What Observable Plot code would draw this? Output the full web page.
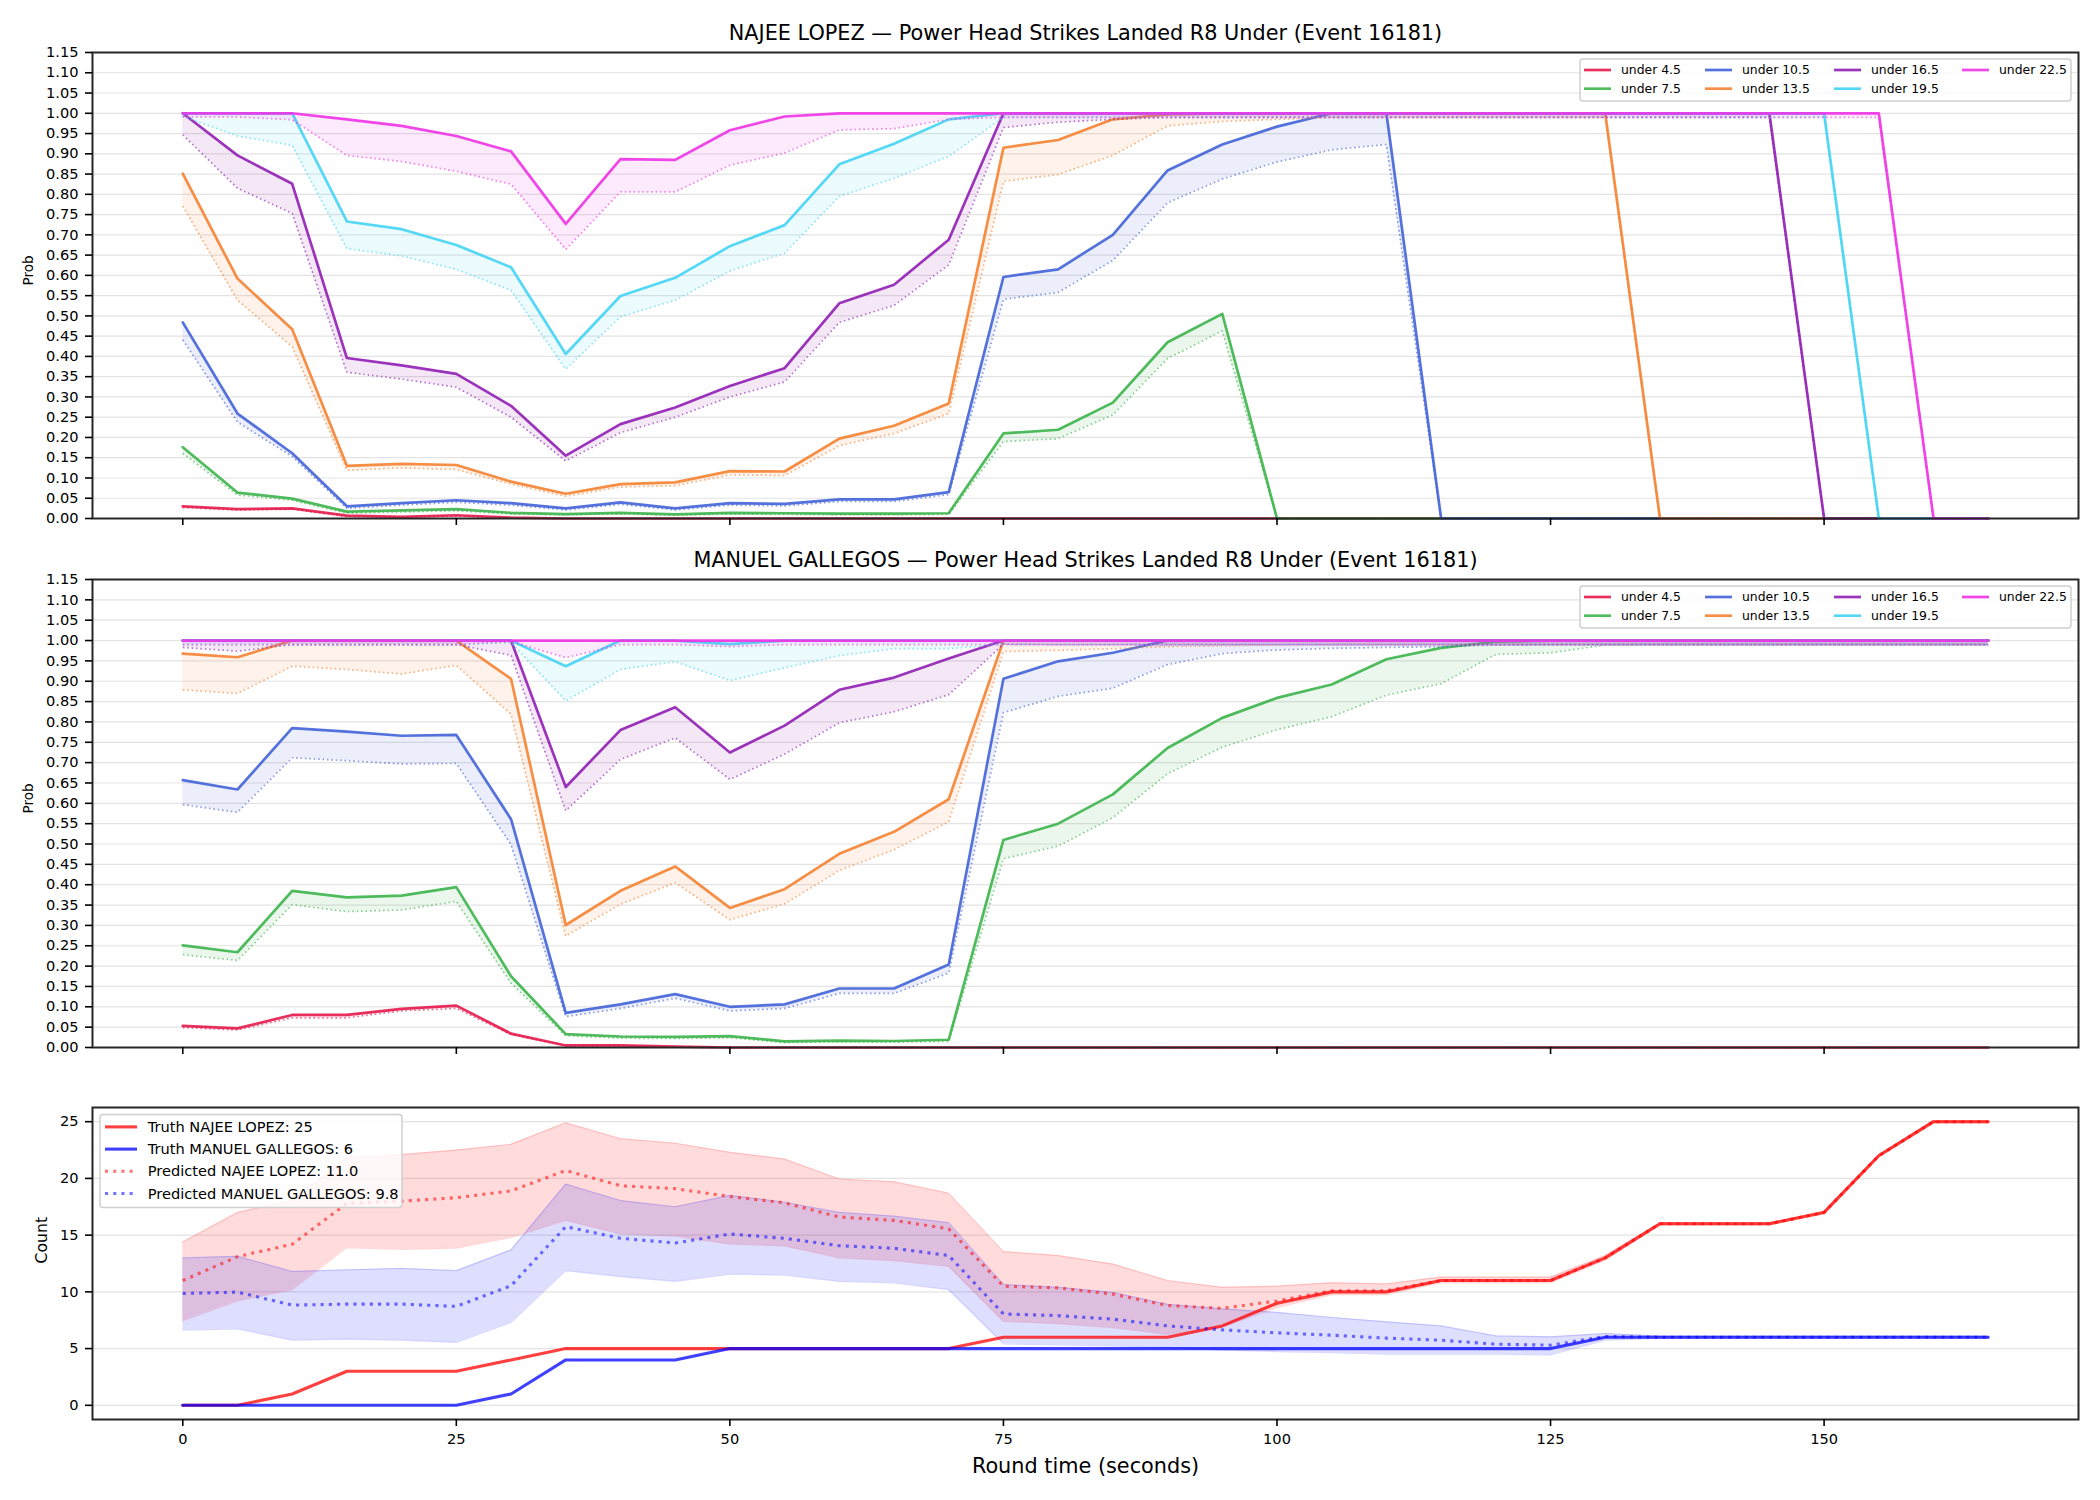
<!DOCTYPE html>
<html><head><meta charset="utf-8">
<script src="https://cdn.jsdelivr.net/npm/d3@7"></script>
<script src="https://cdn.jsdelivr.net/npm/@observablehq/plot@0.6"></script>
<style>
body{margin:0;background:#fff;}
#chart{width:2100px;}
#chart svg{display:block;}
</style></head><body><div id="chart"></div>
<script>
const times = [0,5,10,15,20,25,30,35,40,45,50,55,60,65,70,75,80,85,90,95,100,105,110,115,120,125,130,135,140,145,150,155,160,165];
const thresholds = ["under 4.5","under 7.5","under 10.5","under 13.5","under 16.5","under 19.5","under 22.5"];
const colors = ["#e6194b","#3cb44b","#4363d8","#f58231","#911eb4","#42d4f4","#f032e6"];
const probTicks = [0,0.05,0.1,0.15,0.2,0.25,0.3,0.35,0.4,0.45,0.5,0.55,0.6,0.65,0.7,0.75,0.8,0.85,0.9,0.95,1,1.05,1.1,1.15];
const countTicks = [0,5,10,15,20,25];
const timeTicks = [0,25,50,75,100,125,150];

// NAJEE LOPEZ (solid = line, Dot = dotted lower edge)
const lopez45 = [0.030,0.023,0.025,0.007,0.004,0.008,0.002,0,0,0, 0,0,0,0,0,0,0,0,0,0, 0,0,0,0,0,0,0,0,0,0, 0,0,0,0];
const lopez45Dot = [0.027,0.021,0.023,0.005,0.003,0.006,0.001,0,0,0, 0,0,0,0,0,0,0,0,0,0, 0,0,0,0,0,0,0,0,0,0, 0,0,0,0];
const lopez75 = [0.176,0.064,0.049,0.017,0.020,0.023,0.014,0.011,0.014,0.010, 0.014,0.013,0.012,0.012,0.013,0.210,0.219,0.286,0.435,0.505, 0,0,0,0,0,0,0,0,0,0, 0,0,0,0];
const lopez75Dot = [0.161,0.058,0.045,0.013,0.016,0.019,0.011,0.009,0.011,0.008, 0.011,0.010,0.009,0.009,0.010,0.190,0.197,0.256,0.395,0.463, 0,0,0,0,0,0,0,0,0,0, 0,0,0,0];
const lopez105 = [0.484,0.259,0.161,0.030,0.038,0.045,0.038,0.025,0.040,0.025, 0.038,0.036,0.047,0.047,0.065,0.596,0.615,0.700,0.859,0.923, 0.967,1,1,0,0,0,0,0,0,0, 0,0,0,0];
const lopez105Dot = [0.441,0.238,0.153,0.025,0.033,0.040,0.033,0.021,0.035,0.021, 0.033,0.031,0.042,0.042,0.059,0.541,0.558,0.637,0.779,0.838, 0.880,0.910,0.923,0,0,0,0,0,0,0, 0,0,0,0];
const lopez135 = [0.851,0.592,0.467,0.130,0.135,0.132,0.091,0.061,0.085,0.089, 0.117,0.116,0.197,0.229,0.284,0.915,0.934,0.985,0.997,1, 1,1,1,1,1,1,1,0,0,0, 0,0,0,0];
const lopez135Dot = [0.771,0.539,0.424,0.119,0.125,0.121,0.085,0.055,0.078,0.081, 0.108,0.106,0.180,0.210,0.259,0.832,0.849,0.896,0.969,0.980, 0.985,0.990,0.990,0.990,0.990,0.990,0.990,0,0,0, 0,0,0,0];
const lopez165 = [1,0.896,0.826,0.396,0.378,0.357,0.278,0.155,0.233,0.274, 0.327,0.371,0.531,0.577,0.688,1,1,1,1,1, 1,1,1,1,1,1,1,1,1,1, 0,0,0,0];
const lopez165Dot = [0.947,0.815,0.753,0.361,0.344,0.324,0.250,0.142,0.212,0.250, 0.300,0.337,0.484,0.526,0.626,0.965,0.978,0.985,0.990,0.990, 0.990,0.990,0.990,0.990,0.990,0.990,0.990,0.990,0.990,0.990, 0,0,0,0];
const lopez195 = [1,1,1,0.733,0.714,0.675,0.620,0.406,0.549,0.594, 0.672,0.724,0.874,0.925,0.985,1,1,1,1,1, 1,1,1,1,1,1,1,1,1,1, 1,0,0,0];
const lopez195Dot = [0.993,0.944,0.921,0.666,0.648,0.615,0.563,0.369,0.498,0.539, 0.611,0.655,0.795,0.840,0.894,0.990,0.990,0.990,0.990,0.990, 0.990,0.990,0.990,0.990,0.990,0.990,0.990,0.990,0.990,0.990, 0.990,0,0,0];
const lopez225 = [1,1,1,0.985,0.969,0.944,0.906,0.727,0.887,0.885, 0.958,0.992,1,1,1,1,1,1,1,1, 1,1,1,1,1,1,1,1,1,1, 1,1,0,0];
const lopez225Dot = [0.991,0.991,0.984,0.896,0.881,0.857,0.825,0.664,0.806,0.806, 0.872,0.902,0.959,0.962,0.985,0.990,0.990,0.990,0.990,0.990, 0.990,0.990,0.990,0.990,0.990,0.990,0.990,0.990,0.990,0.990, 0.990,0.990,0,0];

// MANUEL GALLEGOS
const gal45 = [0.053,0.047,0.080,0.080,0.095,0.103,0.034,0.005,0.005,0.002, 0,0,0,0,0,0,0,0,0,0, 0,0,0,0,0,0,0,0,0,0, 0,0,0,0];
const gal45Dot = [0.049,0.043,0.073,0.073,0.090,0.096,0.032,0.004,0.004,0.001, 0,0,0,0,0,0,0,0,0,0, 0,0,0,0,0,0,0,0,0,0, 0,0,0,0];
const gal75 = [0.251,0.234,0.385,0.369,0.373,0.394,0.175,0.033,0.027,0.026, 0.028,0.015,0.017,0.016,0.019,0.510,0.550,0.622,0.736,0.810, 0.859,0.892,0.954,0.982,0.997,1,1,1,1,1, 1,1,1,1];
const gal75Dot = [0.228,0.214,0.351,0.334,0.338,0.359,0.158,0.029,0.023,0.022, 0.024,0.012,0.014,0.013,0.015,0.464,0.495,0.565,0.673,0.738, 0.781,0.813,0.866,0.894,0.966,0.970,0.989,0.990,0.990,0.990, 0.990,0.990,0.990,0.990];
const gal105 = [0.657,0.634,0.785,0.776,0.766,0.768,0.561,0.085,0.106,0.131, 0.100,0.106,0.145,0.145,0.204,0.906,0.949,0.970,1,1, 1,1,1,1,1,1,1,1,1,1, 1,1,1,1];
const gal105Dot = [0.597,0.578,0.712,0.705,0.697,0.698,0.499,0.076,0.096,0.121, 0.090,0.096,0.133,0.133,0.183,0.823,0.863,0.883,0.941,0.968, 0.977,0.981,0.983,0.985,0.989,0.990,0.990,0.990,0.990,0.990, 0.990,0.990,0.990,0.990];
const gal135 = [0.968,0.959,1,1,1,1,0.906,0.301,0.385,0.445, 0.343,0.389,0.476,0.530,0.610,1,1,1,1,1, 1,1,1,1,1,1,1,1,1,1, 1,1,1,1];
const gal135Dot = [0.879,0.870,0.937,0.929,0.918,0.939,0.819,0.274,0.352,0.405, 0.314,0.353,0.435,0.486,0.555,0.973,0.976,0.980,0.985,0.987, 0.990,0.990,0.990,0.990,0.990,0.990,0.990,0.990,0.990,0.990, 0.990,0.990,0.990,0.990];
const gal165 = [1,1,1,1,1,1,1,0.640,0.780,0.836, 0.725,0.791,0.879,0.909,0.956,1,1,1,1,1, 1,1,1,1,1,1,1,1,1,1, 1,1,1,1];
const gal165Dot = [0.983,0.974,0.990,0.990,0.990,0.990,0.964,0.582,0.708,0.761, 0.659,0.721,0.798,0.825,0.867,0.991,0.990,0.990,0.990,0.990, 0.990,0.990,0.990,0.990,0.990,0.990,0.990,0.990,0.990,0.990, 0.990,0.990,0.990,0.990];
const gal195 = [1,1,1,1,1,1,1,0.937,1,1, 0.991,1,1,1,1,1,1,1,1,1, 1,1,1,1,1,1,1,1,1,1, 1,1,1,1];
const gal195Dot = [0.990,0.990,0.990,0.990,0.990,0.990,0.995,0.852,0.929,0.948, 0.902,0.933,0.963,0.980,0.980,0.991,0.990,0.990,0.990,0.990, 0.990,0.990,0.990,0.990,0.990,0.990,0.990,0.990,0.990,0.990, 0.990,0.990,0.990,0.990];
const gal225 = [1,1,1,1,1,1,1,1,1,1, 1,1,1,1,1,1,1,1,1,1, 1,1,1,1,1,1,1,1,1,1, 1,1,1,1];
const gal225Dot = [0.990,0.990,0.990,0.990,0.990,0.990,0.998,0.958,0.990,0.990, 0.985,0.990,0.990,0.990,0.990,0.990,0.990,0.990,0.990,0.990, 0.990,0.990,0.990,0.990,0.990,0.990,0.990,0.990,0.990,0.990, 0.990,0.990,0.990,0.990];

// Counts
const truthLopez = [0,0,1,3,3,3,4,5,5,5, 5,5,5,5,5,6,6,6,6,7, 9,10,10,11,11,11,13,16,16,16, 17,22,25,25];
const truthGallegos = [0,0,0,0,0,0,1,4,4,4, 5,5,5,5,5,5,5,5,5,5, 5,5,5,5,5,5,6,6,6,6, 6,6,6,6];
const predLopez = [11.0,13.1,14.2,17.8,18.0,18.3,18.9,20.7,19.35,19.1, 18.4,17.85,16.6,16.3,15.55,10.5,10.35,9.8,8.8,8.55, 9.2,10.1,10.1,11.0,11.0,11.0,13.0,16.0,16.0,16.0, 17.0,22.0,25.0,25.0];
const predLopezHi = [14.4,17.0,18.05,21.8,22.1,22.5,23.0,24.9,23.5,23.1, 22.3,21.7,19.95,19.7,18.7,13.55,13.2,12.45,11.0,10.4, 10.5,10.8,10.7,11.3,11.3,11.3,13.2,16.1,16.1,16.1, 17.1,22.1,25.1,25.1];
const predLopezLo = [7.45,9.2,10.2,13.9,13.75,13.85,14.8,16.3,15.1,14.9, 14.2,14.05,13.0,12.75,12.25,7.4,7.2,6.85,6.25,6.9, 8.6,9.75,9.75,10.8,10.8,10.8,12.8,15.9,15.9,15.9, 16.9,21.9,24.9,24.9];
const predGallegos = [9.86,9.98,8.83,8.92,8.92,8.72,10.54,15.75,14.72,14.31, 15.1,14.72,14.07,13.84,13.2,8.05,7.9,7.6,7.0,6.65, 6.39,6.18,5.92,5.74,5.39,5.3,6.07,6.0,6.0,6.0, 6.0,6.0,6.0,6.0];
const predGallegosHi = [12.99,13.13,11.8,11.93,12.07,11.87,13.7,19.5,18.05,17.5, 18.5,17.9,17.0,16.67,16.1,10.65,10.4,9.95,8.9,8.5, 8.19,7.74,7.36,7.0,6.12,6.04,6.33,6.1,6.1,6.1, 6.1,6.1,6.1,6.1];
const predGallegosLo = [6.63,6.74,5.74,5.83,5.74,5.54,7.3,11.87,11.34,10.92, 11.57,11.48,10.92,10.78,10.19,5.42,5.33,5.24,5.1,4.86, 4.74,4.65,4.5,4.5,4.5,4.45,5.74,5.9,5.9,5.9, 5.9,5.9,5.9,5.9];
const countLegend = ["Truth NAJEE LOPEZ: 25","Truth MANUEL GALLEGOS: 6","Predicted NAJEE LOPEZ: 11.0","Predicted MANUEL GALLEGOS: 9.8"];

const lopezSolid = [lopez45,lopez75,lopez105,lopez135,lopez165,lopez195,lopez225];
const lopezDot = [lopez45Dot,lopez75Dot,lopez105Dot,lopez135Dot,lopez165Dot,lopez195Dot,lopez225Dot];
const galSolid = [gal45,gal75,gal105,gal135,gal165,gal195,gal225];
const galDot = [gal45Dot,gal75Dot,gal105Dot,gal135Dot,gal165Dot,gal195Dot,gal225Dot];

const FONT = "DejaVu Sans";
const W = 2100, ML = 92, MR = 22;
const xDomain = [-8.25, 173.25];
const container = document.getElementById("chart");

function probPanel(title, solids, dots, height, mt, mb) {
  const marks = [Plot.gridY(probTicks, {stroke: "#e3e3e3", strokeOpacity: 1, strokeWidth: 1.2})];
  thresholds.forEach((th, i) => {
    const d = times.map((t, j) => ({t, p: solids[i][j], q: dots[i][j]}));
    marks.push(Plot.areaY(d, {x: "t", y1: "q", y2: "p", fill: colors[i], fillOpacity: 0.1}));
    marks.push(Plot.lineY(d, {x: "t", y: "p", stroke: colors[i], strokeWidth: 2.7, strokeOpacity: 0.9}));
    marks.push(Plot.lineY(d, {x: "t", y: "q", stroke: colors[i], strokeWidth: 1.7, strokeOpacity: 0.6, strokeDasharray: "1.7,2.7", strokeLinecap: "butt"}));
  });
  marks.push(Plot.frame({stroke: "#262626", strokeWidth: 2}));
  marks.push(Plot.axisY(probTicks, {tickFormat: d => d.toFixed(2), tickSize: 7, tickPadding: 7, label: null, strokeWidth: 1.6, fontSize: 14.6}));
  marks.push(Plot.axisX(timeTicks, {tickFormat: () => "", tickSize: 7, label: null, strokeWidth: 1.6}));
  marks.push(Plot.text([title], {text: d => d, frameAnchor: "top", dy: -13, lineAnchor: "bottom", fontSize: 20.8, fill: "#000"}));
  marks.push(Plot.text(["Prob"], {text: d => d, frameAnchor: "left", dx: -64, rotate: -90, fontSize: 13.6, fill: "#000"}));
  const svg = Plot.plot({
    width: W, height, marginLeft: ML, marginRight: MR, marginTop: mt, marginBottom: mb,
    style: {fontFamily: FONT, fontSize: "14.6px", color: "#000", background: "#fff", overflow: "visible"},
    x: {domain: xDomain}, y: {domain: [0, 1.15]},
    marks
  });
  // legend
  const g = d3.select(svg).append("g").attr("font-family", FONT).attr("font-size", "12.4px").attr("text-anchor", "start");
  const bx = 1580, by = mt + 7, bw = 491, bh = 42;
  g.append("rect").attr("x", bx).attr("y", by).attr("width", bw).attr("height", bh).attr("rx", 3)
    .attr("fill", "#fff").attr("fill-opacity", 0.8).attr("stroke", "#d0d0d0").attr("stroke-width", 1.5);
  const colX = [4, 125, 254, 382];
  thresholds.forEach((th, i) => {
    const c = Math.floor(i / 2), r = i % 2;
    const x0 = bx + colX[c], y0 = by + 11 + r * 18.7;
    g.append("line").attr("x1", x0).attr("x2", x0 + 27).attr("y1", y0).attr("y2", y0)
      .attr("stroke", colors[i]).attr("stroke-opacity", 0.9).attr("stroke-width", 2.7);
    g.append("text").attr("x", x0 + 37).attr("y", y0).attr("dy", "0.35em").attr("text-anchor", "start").attr("fill", "#000").text(th);
  });
  return svg;
}

function countPanel(height, mt, mb) {
  const d = times.map((t, j) => ({t, tl: truthLopez[j], tg: truthGallegos[j], pl: predLopez[j], plh: predLopezHi[j], pll: predLopezLo[j], pg: predGallegos[j], pgh: predGallegosHi[j], pgl: predGallegosLo[j]}));
  const marks = [
    Plot.gridY(countTicks, {stroke: "#e3e3e3", strokeOpacity: 1, strokeWidth: 1.2}),
    Plot.areaY(d, {x: "t", y1: "pll", y2: "plh", fill: "red", fillOpacity: 0.14}),
    Plot.lineY(d, {x: "t", y: "plh", stroke: "red", strokeOpacity: 0.15, strokeWidth: 1.2}),
    Plot.lineY(d, {x: "t", y: "pll", stroke: "red", strokeOpacity: 0.15, strokeWidth: 1.2}),
    Plot.areaY(d, {x: "t", y1: "pgl", y2: "pgh", fill: "blue", fillOpacity: 0.13}),
    Plot.lineY(d, {x: "t", y: "pgh", stroke: "blue", strokeOpacity: 0.15, strokeWidth: 1.2}),
    Plot.lineY(d, {x: "t", y: "pgl", stroke: "blue", strokeOpacity: 0.15, strokeWidth: 1.2}),
    Plot.lineY(d, {x: "t", y: "tl", stroke: "red", strokeOpacity: 0.75, strokeWidth: 3.1}),
    Plot.lineY(d, {x: "t", y: "tg", stroke: "blue", strokeOpacity: 0.75, strokeWidth: 3.1}),
    Plot.lineY(d, {x: "t", y: "pl", stroke: "red", strokeOpacity: 0.55, strokeWidth: 3.1, strokeDasharray: "3.1,5.1", strokeLinecap: "butt"}),
    Plot.lineY(d, {x: "t", y: "pg", stroke: "blue", strokeOpacity: 0.55, strokeWidth: 3.1, strokeDasharray: "3.1,5.1", strokeLinecap: "butt"}),
    Plot.frame({stroke: "#262626", strokeWidth: 2}),
    Plot.axisY(countTicks, {tickFormat: d => String(d), tickSize: 7, tickPadding: 7, label: null, strokeWidth: 1.6, fontSize: 14.6}),
    Plot.axisX(timeTicks, {tickFormat: d => String(d), tickSize: 7, tickPadding: 7, label: null, strokeWidth: 1.6, fontSize: 14.6}),
    Plot.text(["Count"], {text: d => d, frameAnchor: "left", dx: -50.5, rotate: -90, fontSize: 15.7, fill: "#000"}),
    Plot.text(["Round time (seconds)"], {text: d => d, frameAnchor: "bottom", dy: 47, lineAnchor: "middle", fontSize: 20.8, fill: "#000"})
  ];
  const svg = Plot.plot({
    width: W, height, marginLeft: ML, marginRight: MR, marginTop: mt, marginBottom: mb,
    style: {fontFamily: FONT, fontSize: "14.6px", color: "#000", background: "#fff", overflow: "visible"},
    x: {domain: xDomain}, y: {domain: [-1.25, 26.25]},
    marks
  });
  const g = d3.select(svg).append("g").attr("font-family", FONT).attr("font-size", "14.6px").attr("text-anchor", "start");
  const bx = 100, by = mt + 7.5, bw = 302, bh = 93;
  g.append("rect").attr("x", bx).attr("y", by).attr("width", bw).attr("height", bh).attr("rx", 3)
    .attr("fill", "#fff").attr("fill-opacity", 0.8).attr("stroke", "#d0d0d0").attr("stroke-width", 1.5);
  const styles = [
    {c: "red", o: 0.75, dash: null}, {c: "blue", o: 0.75, dash: null},
    {c: "red", o: 0.55, dash: "3.1,5.1"}, {c: "blue", o: 0.55, dash: "3.1,5.1"}
  ];
  countLegend.forEach((lab, i) => {
    const y0 = by + 12.4 + i * 22.2;
    const ln = g.append("line").attr("x1", bx + 5).attr("x2", bx + 37).attr("y1", y0).attr("y2", y0)
      .attr("stroke", styles[i].c).attr("stroke-opacity", styles[i].o).attr("stroke-width", 3.1);
    if (styles[i].dash) ln.attr("stroke-dasharray", styles[i].dash);
    g.append("text").attr("x", bx + 47.7).attr("y", y0).attr("dy", "0.35em").attr("text-anchor", "start").attr("fill", "#000").text(lab);
  });
  return svg;
}

const all = [...lopezSolid, ...lopezDot, ...galSolid, ...galDot, truthLopez, truthGallegos, predLopez, predLopezHi, predLopezLo, predGallegos, predGallegosHi, predGallegosLo];
all.forEach((a, k) => { if (a.length !== times.length) throw new Error("array " + k + " has length " + a.length); });

container.appendChild(probPanel("NAJEE LOPEZ \u2014 Power Head Strikes Landed R8 Under (Event 16181)", lopezSolid, lopezDot, 545, 52, 27));
container.appendChild(probPanel("MANUEL GALLEGOS \u2014 Power Head Strikes Landed R8 Under (Event 16181)", galSolid, galDot, 530, 34, 28));
container.appendChild(countPanel(425, 32, 81));
</script>
</body></html>
